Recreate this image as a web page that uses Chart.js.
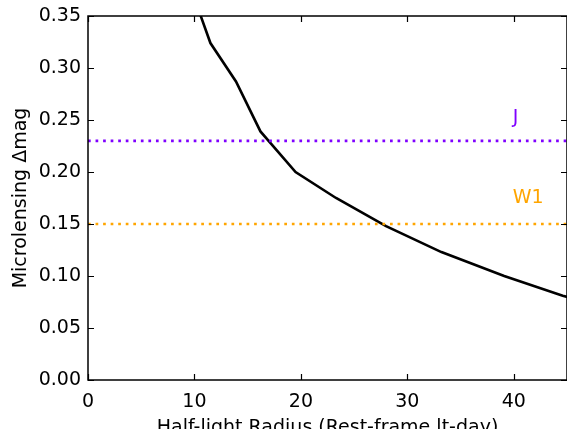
<!DOCTYPE html>
<html>
<head>
<meta charset="utf-8">
<script src="https://cdn.jsdelivr.net/npm/chart.js@4.4.1/dist/chart.umd.min.js"></script>
<style>
  html, body { margin: 0; padding: 0; background: #fff; }
  #wrap { width: 567px; height: 429px; }
</style>
</head>
<body>
<div id="wrap"><canvas id="myChart" width="567" height="429"></canvas></div>
<script>
// microlensing amplitude vs half-light radius
const radius = [10.0, 11.5, 13.9, 16.2, 19.5, 23.3, 28.0, 33.2, 39.1, 44.6, 46.0];
const deltaMag = [0.367, 0.324, 0.287, 0.239, 0.200, 0.175, 0.148, 0.123, 0.100, 0.081, 0.077];

const jLevel = 0.23;
const w1Level = 0.15;
const xTicks = [0, 10, 20, 30, 40];
const yTicks = [0, 0.05, 0.10, 0.15, 0.20, 0.25, 0.30, 0.35];

const FONT = "'DejaVu Sans', sans-serif";
const FS = 19;

// inward ticks on all four sides + the box
const frameTicks = {
  id: 'frameTicks',
  afterDatasetsDraw(chart) {
    const { ctx, chartArea: a, scales: { x, y } } = chart;
    ctx.save();
    ctx.strokeStyle = '#000';
    ctx.lineWidth = 1.2;
    ctx.beginPath();
    xTicks.forEach((v) => {
      const px = Math.round(x.getPixelForValue(v)) + 0.5;
      ctx.moveTo(px, a.bottom); ctx.lineTo(px, a.bottom - 6);
      ctx.moveTo(px, a.top); ctx.lineTo(px, a.top + 6);
    });
    yTicks.forEach((v) => {
      const py = Math.round(y.getPixelForValue(v)) + 0.5;
      ctx.moveTo(a.left, py); ctx.lineTo(a.left + 6, py);
      ctx.moveTo(a.right, py); ctx.lineTo(a.right - 6, py);
    });
    ctx.stroke();
    ctx.lineWidth = 1.5;
    ctx.strokeRect(a.left, a.top, a.right - a.left, a.bottom - a.top);
    ctx.restore();
  }
};

// the J / W1 labels
const bandLabels = {
  id: 'bandLabels',
  afterDatasetsDraw(chart) {
    const { ctx, scales: { x, y } } = chart;
    ctx.save();
    ctx.font = FS + 'px ' + FONT;
    ctx.textAlign = 'left';
    ctx.textBaseline = 'alphabetic';
    ctx.fillStyle = '#7f00ff';
    ctx.fillText('J', x.getPixelForValue(39.9), y.getPixelForValue(0.247));
    ctx.fillStyle = '#ffa500';
    ctx.fillText('W1', x.getPixelForValue(39.9), y.getPixelForValue(0.170));
    ctx.restore();
  }
};

const ctx = document.getElementById('myChart');

new Chart(ctx, {
  type: 'scatter',
  plugins: [frameTicks, bandLabels],
  data: {
    datasets: [
      {
        label: 'J',
        data: [{ x: 0, y: jLevel }, { x: 45, y: jLevel }],
        showLine: true,
        borderColor: '#7f00ff',
        borderWidth: 2.7,
        borderDash: [2.7, 4.85],
        borderCapStyle: 'butt',
        pointRadius: 0,
      },
      {
        label: 'W1',
        data: [{ x: 0, y: w1Level }, { x: 45, y: w1Level }],
        showLine: true,
        borderColor: '#ffa500',
        borderWidth: 2.7,
        borderDash: [2.7, 4.85],
        borderCapStyle: 'butt',
        pointRadius: 0,
      },
      {
        label: 'model',
        data: radius.map((r, i) => ({ x: r, y: deltaMag[i] })),
        showLine: true,
        borderColor: '#000',
        borderWidth: 2.6,
        pointRadius: 0,
        tension: 0,
      },
    ],
  },
  options: {
    responsive: false,
    animation: false,
    events: [],
    layout: { padding: { top: 16, right: 0, left: 0, bottom: 0 } },
    plugins: {
      legend: { display: false },
      tooltip: { enabled: false },
    },
    scales: {
      x: {
        type: 'linear',
        min: 0,
        max: 45,
        afterFit(scale) {
          scale.height = 49;
          scale.paddingLeft = 0;
          scale.paddingRight = 0;
        },
        afterBuildTicks(scale) { scale.ticks = xTicks.map((v) => ({ value: v })); },
        grid: { display: false, drawTicks: false },
        border: { display: false },
        ticks: {
          padding: 11,
          color: '#000',
          font: { family: FONT, size: FS },
          maxRotation: 0,
        },
        title: {
          display: true,
          text: 'Half-light Radius (Rest-frame lt-day)',
          color: '#000',
          font: { family: FONT, size: FS },
          padding: { top: 0, bottom: -10 },
        },
      },
      y: {
        min: 0,
        max: 0.35,
        afterFit(scale) {
          scale.width = 88;
          scale.paddingTop = 0;
          scale.paddingBottom = 0;
        },
        afterBuildTicks(scale) { scale.ticks = yTicks.map((v) => ({ value: v })); },
        grid: { display: false, drawTicks: false },
        border: { display: false },
        ticks: {
          padding: 7,
          color: '#000',
          font: { family: FONT, size: FS },
          callback: (v) => v.toFixed(2),
        },
        title: {
          display: true,
          text: 'Microlensing Δmag',
          color: '#000',
          font: { family: FONT, size: FS },
          padding: { top: 10, bottom: 0 },
        },
      },
    },
  },
});
</script>
</body>
</html>
